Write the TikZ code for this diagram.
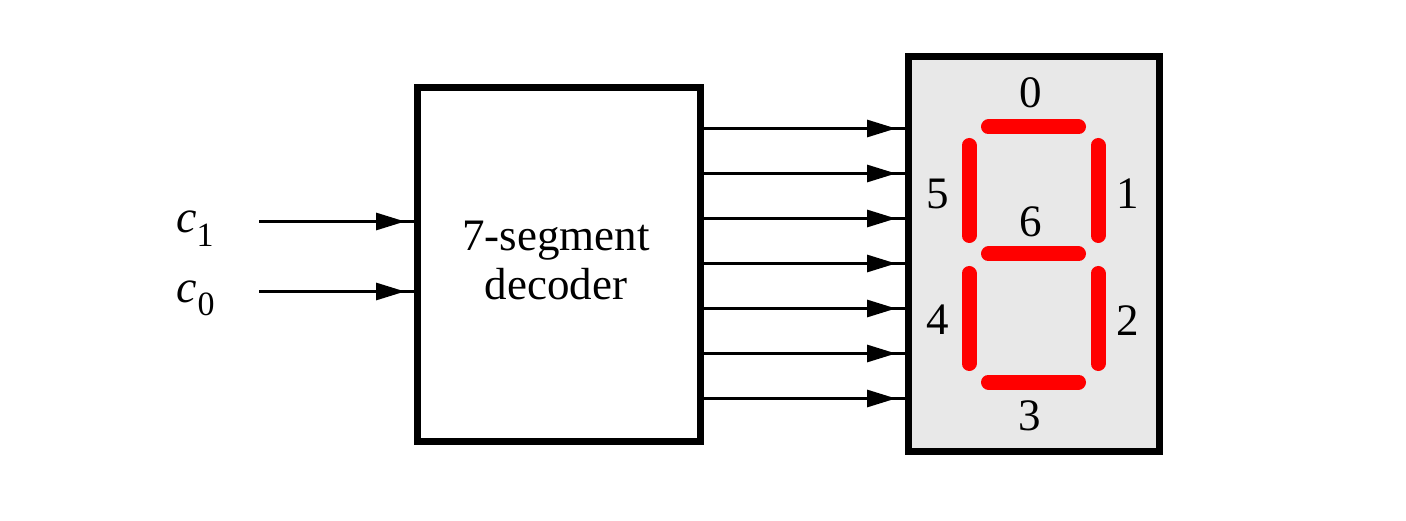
\documentclass[tikz,border=0pt]{standalone}
\usepackage{fontspec}
\setmainfont{Liberation Serif}
\usetikzlibrary{arrows.meta,decorations.markings}
\tikzset{
  x=1pt,y=-1pt,
  blockbox/.style={draw=black,line width=7pt,line join=miter,minimum width=#1,inner sep=0pt,outer sep=0pt,anchor=north west},
  wire/.style={draw=black,line width=3pt,postaction={decorate},
    decoration={markings,mark=at position -12pt with {\arrow{Triangle[length=29pt,width=17pt]}}}},
  seg/.style={draw=red,line width=15pt,line cap=round},
  lab/.style={font=\fontsize{45}{54}\selectfont,inner sep=0pt,outer sep=0pt,anchor=base},
  sublab/.style={font=\fontsize{34}{40}\selectfont,inner sep=0pt,outer sep=0pt,anchor=base},
}
\begin{document}
\begin{tikzpicture}
\useasboundingbox (0,0) rectangle (1406,521);
\node[blockbox=283pt,minimum height=353pt] (dec) at (417,88) {};
\node[blockbox=251pt,minimum height=394pt,fill=black!9] (disp) at (908,57) {};
\node[lab] (declabA) at (556,251) {7-segment};
\node[lab] (declabB) at (556,300) {decoder};
\node[lab,font=\fontsize{46}{54}\selectfont\itshape] (cA) at (187,233) {c};
\node[sublab] (cAs) at (205,247) {1};
\node[lab,font=\fontsize{46}{54}\selectfont\itshape] (cB) at (187,303) {c};
\node[sublab] (cBs) at (206,316) {0};
\coordinate (inA) at (259,221.5);
\coordinate (inB) at (259,291.5);
\draw[wire] (inA) -- (dec.west |- inA);
\draw[wire] (inB) -- (dec.west |- inB);
\foreach \n/\y in {a/128.5,b/173.5,c/218.5,d/263.5,e/308.5,f/353.5,g/398.5}{
  \coordinate (o\n) at (703,\y);
  \draw[wire] (o\n) -- (disp.west |- o\n);
}
% segments
\draw[seg] (988.5,127) -- (1078.5,127);
\draw[seg] (988.5,254) -- (1078.5,254);
\draw[seg] (988.5,382) -- (1078.5,382);
\draw[seg] (969,145.5) -- (969,235.5);
\draw[seg] (1098,145.5) -- (1098,235.5);
\draw[seg] (969,273.5) -- (969,363.5);
\draw[seg] (1098,273.5) -- (1098,363.5);
\node[lab] (s0) at (1031,108) {0};
\node[lab] (s1) at (1128,209) {1};
\node[lab] (s2) at (1128,336) {2};
\node[lab] (s3) at (1030,430) {3};
\node[lab] (s4) at (938,335) {4};
\node[lab] (s5) at (938,209) {5};
\node[lab] (s6) at (1031,237) {6};
\end{tikzpicture}
\end{document}
